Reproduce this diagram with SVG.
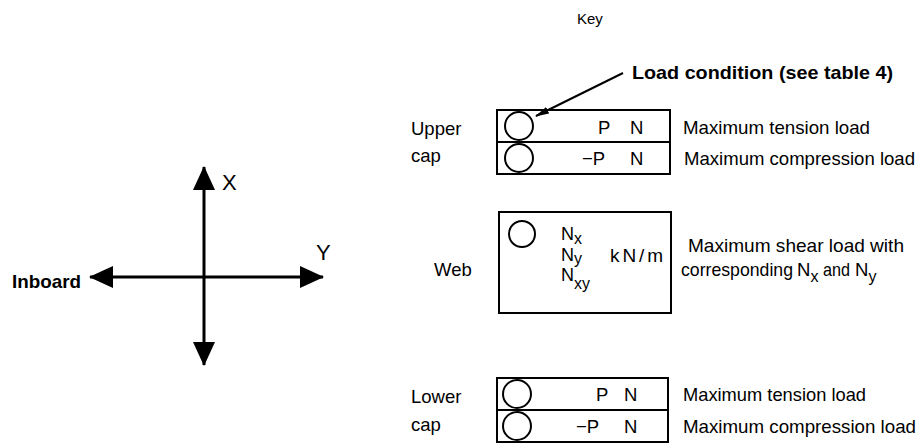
<svg xmlns="http://www.w3.org/2000/svg" width="923" height="445" viewBox="0 0 923 445">
<defs>
<style>
text{font-family:"Liberation Sans",Arial,sans-serif;fill:#000}
.t{font-size:18.5px}
.b{font-weight:bold}
.s{font-size:16px}
.box{fill:none;stroke:#000;stroke-width:2}
.c{fill:none;stroke:#000;stroke-width:2}
.ax{stroke:#000;stroke-width:3;fill:none}
</style>
<marker id="ah" viewBox="0 0 24 22" refX="23" refY="11" markerWidth="24" markerHeight="22" markerUnits="userSpaceOnUse" orient="auto">
<path d="M0,0 L24,11 L0,22 Z" fill="#000"/>
</marker>
<marker id="sm" viewBox="0 0 14 7" refX="13" refY="3.5" markerWidth="14" markerHeight="7" markerUnits="userSpaceOnUse" orient="auto">
<path d="M0,0 L14,3.5 L0,7 Z" fill="#000"/>
</marker>
</defs>
<rect width="923" height="445" fill="#fff"/>

<g id="axes">
<g id="connectors">
<line class="ax" x1="204" y1="277" x2="204" y2="167" marker-end="url(#ah)"/>
<line class="ax" x1="204" y1="277" x2="204" y2="365" marker-end="url(#ah)"/>
<line class="ax" x1="204" y1="277" x2="90" y2="277" marker-end="url(#ah)"/>
<line class="ax" x1="204" y1="277" x2="323" y2="277" marker-end="url(#ah)"/>
<line x1="623" y1="73" x2="536" y2="116" stroke="#000" stroke-width="2" marker-end="url(#sm)"/>
</g>
<text x="222" y="190" style="font-size:22px">X</text>
<text x="316" y="260" style="font-size:22px">Y</text>
<text x="12" y="288" class="b" style="font-size:19px" textLength="69" lengthAdjust="spacingAndGlyphs">Inboard</text>
</g>

<text id="key" x="577" y="24" style="font-size:15px">Key</text>
<text id="load-condition" x="632" y="79" class="b" style="font-size:19px" textLength="261" lengthAdjust="spacingAndGlyphs">Load condition (see table 4)</text>

<g id="upper-cap">
<text x="411" y="135" class="t">Upper</text>
<text x="411" y="162" class="t">cap</text>
<rect class="box" x="497" y="110" width="173" height="64"/>
<line class="box" x1="497" y1="142" x2="670" y2="142"/>
<circle class="c" cx="519" cy="126" r="14"/>
<circle class="c" cx="519" cy="158" r="14"/>
<text x="598" y="134" class="t">P</text>
<text x="630" y="134" class="t">N</text>
<text x="582" y="165" class="t">−P</text>
<text x="630" y="165" class="t">N</text>
<text x="683" y="134" class="t" textLength="187" lengthAdjust="spacingAndGlyphs">Maximum tension load</text>
<text x="684" y="165" class="t" textLength="231" lengthAdjust="spacingAndGlyphs">Maximum compression load</text>
</g>

<g id="web">
<text x="434" y="276" class="t">Web</text>
<rect class="box" x="499" y="212" width="172" height="101"/>
<circle class="c" cx="522" cy="234" r="13"/>
<text x="561" y="240" style="font-size:18px">N<tspan class="s" dy="4">x</tspan></text>
<text x="561" y="261" style="font-size:18px">N<tspan class="s" dy="3">y</tspan></text>
<text x="561" y="281" style="font-size:18px">N<tspan class="s" dy="8">xy</tspan></text>
<text x="610" y="262" class="t" style="font-size:19px" textLength="53" lengthAdjust="spacing">kN/m</text>
<text x="688" y="252" class="t" textLength="216" lengthAdjust="spacingAndGlyphs">Maximum shear load with</text>
<text x="681" y="276" class="t" textLength="112" lengthAdjust="spacingAndGlyphs">corresponding</text>
<text x="797" y="276" class="t">N<tspan class="s" dy="6">x</tspan></text>
<text x="823" y="276" class="t" textLength="27" lengthAdjust="spacingAndGlyphs">and</text>
<text x="855" y="276" class="t">N<tspan class="s" dy="6">y</tspan></text>
</g>

<g id="lower-cap">
<text x="411" y="403" class="t">Lower</text>
<text x="411" y="431" class="t">cap</text>
<rect class="box" x="497" y="378" width="171" height="64"/>
<line class="box" x1="497" y1="410" x2="668" y2="410"/>
<circle class="c" cx="517" cy="394" r="14"/>
<circle class="c" cx="517" cy="426" r="14"/>
<text x="596" y="401" class="t">P</text>
<text x="624" y="401" class="t">N</text>
<text x="576" y="433" class="t">−P</text>
<text x="624" y="433" class="t">N</text>
<text x="683" y="401" class="t" textLength="183" lengthAdjust="spacingAndGlyphs">Maximum tension load</text>
<text x="683" y="433" class="t" textLength="233" lengthAdjust="spacingAndGlyphs">Maximum compression load</text>
</g>
</svg>
